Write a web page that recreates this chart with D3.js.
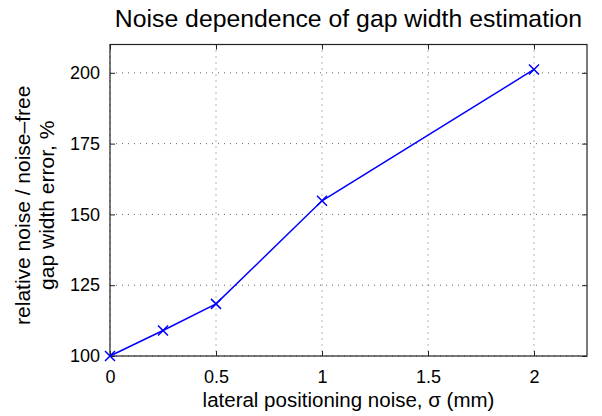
<!DOCTYPE html>
<html>
<head>
<meta charset="utf-8">
<script src="https://cdn.jsdelivr.net/npm/d3@7"></script>
<style>
body { margin: 0; background: #fff; }
text { font-family: "Liberation Sans", Arial, sans-serif; fill: #000; }
</style>
</head>
<body>
<svg id="graph" width="602" height="416"></svg>
<script>
const noise = [0, 0.25, 0.5, 1, 2];
const ratio = [100, 109, 118.4, 154.8, 201.2];
const xTicks = [0, 0.5, 1, 1.5, 2];
const yTicks = [100, 125, 150, 175, 200];

const m = { left: 110, right: 587, top: 44.5, bottom: 356 };
const svg = d3.select("#graph");

const x = d3.scaleLinear().domain([0, 2.25]).range([m.left, m.right]);
const y = d3.scaleLinear().domain([100, 210]).range([m.bottom, m.top]);

// grid
const grid = svg.append("g")
    .attr("stroke", "#666")
    .attr("stroke-width", 1)
    .attr("stroke-dasharray", "1,5");
xTicks.forEach((t) => {
    grid.append("line")
        .attr("x1", x(t)).attr("x2", x(t))
        .attr("y1", m.top).attr("y2", m.bottom);
});
yTicks.forEach((t) => {
    grid.append("line")
        .attr("x1", m.left).attr("x2", m.right)
        .attr("y1", y(t)).attr("y2", y(t));
});

// axes
const xAxis = svg.append("g")
    .attr("transform", `translate(0,${m.bottom})`)
    .call(d3.axisBottom(x).tickValues(xTicks).tickFormat(d3.format("")).tickSize(-5).tickPadding(14));
const xTop = svg.append("g")
    .attr("transform", `translate(0,${m.top})`)
    .call(d3.axisTop(x).tickValues(xTicks).tickFormat("").tickSize(-5));
const yAxis = svg.append("g")
    .attr("transform", `translate(${m.left},0)`)
    .call(d3.axisLeft(y).tickValues(yTicks).tickSize(-5).tickPadding(10));
const yRight = svg.append("g")
    .attr("transform", `translate(${m.right},0)`)
    .call(d3.axisRight(y).tickValues(yTicks).tickFormat("").tickSize(-5));

[xAxis, xTop, yAxis, yRight].forEach((a) => {
    a.select(".domain").remove();
    a.selectAll("line").attr("stroke", "#222");
    a.selectAll("text").style("font-size", "18px").attr("fill", "#000");
});

svg.append("rect")
    .attr("x", m.left).attr("y", m.top)
    .attr("width", m.right - m.left).attr("height", m.bottom - m.top)
    .attr("fill", "none").attr("stroke", "#222").attr("stroke-width", 1.2);

// line
const pts = noise.map((d, i) => [x(d), y(ratio[i])]);
svg.append("path")
    .attr("d", d3.line()(pts))
    .attr("fill", "none")
    .attr("stroke", "#0000ff")
    .attr("stroke-width", 1.5);

const s = 5;
pts.forEach((p) => {
    svg.append("path")
        .attr("d", `M${p[0] - s},${p[1] - s}L${p[0] + s},${p[1] + s}M${p[0] - s},${p[1] + s}L${p[0] + s},${p[1] - s}`)
        .attr("stroke", "#0000ff")
        .attr("stroke-width", 1.5);
});

// labels
svg.append("text")
    .attr("x", (m.left + m.right) / 2).attr("y", 27)
    .attr("text-anchor", "middle")
    .style("font-size", "24.8px")
    .text("Noise dependence of gap width estimation");

svg.append("text")
    .attr("x", (m.left + m.right) / 2).attr("y", 407)
    .attr("text-anchor", "middle")
    .style("font-size", "20.5px")
    .text("lateral positioning noise, σ (mm)");

const yl = svg.append("text")
    .attr("transform", `translate(30,${(m.top + m.bottom) / 2 + 5}) rotate(-90)`)
    .attr("text-anchor", "middle")
    .style("font-size", "21px");
yl.append("tspan").attr("x", 0).attr("dy", 0).text("relative noise / noise–free");
yl.append("tspan").attr("x", 0).attr("dy", 24).text("gap width error, %");
</script>
</body>
</html>
